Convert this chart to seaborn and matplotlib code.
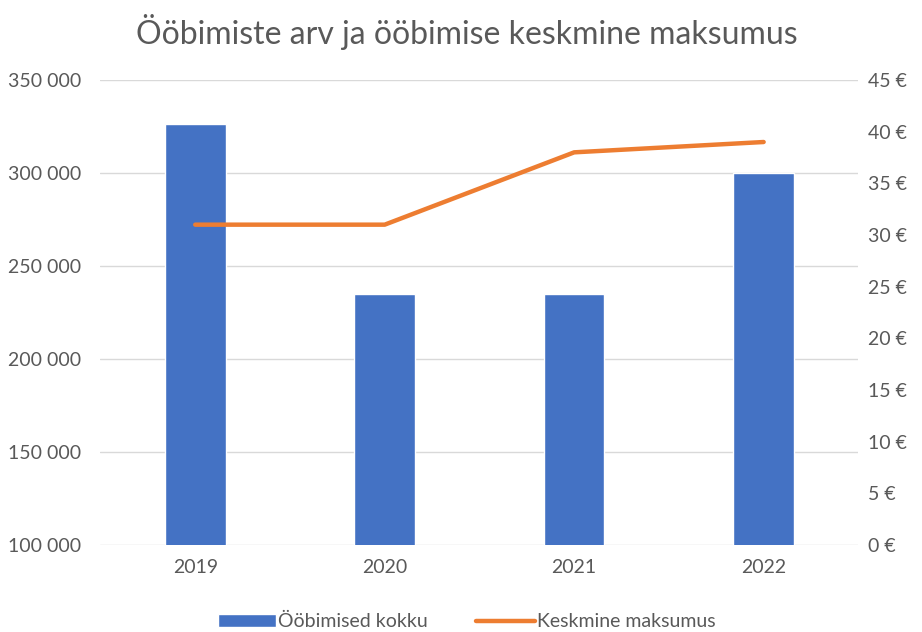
import numpy as np
import pandas as pd
import seaborn as sns
import matplotlib.pyplot as plt
from matplotlib.ticker import FuncFormatter, MultipleLocator
from matplotlib.patches import Patch
from matplotlib.lines import Line2D

years = ["2019", "2020", "2021", "2022"]
stays = [326500, 235000, 235000, 300000]
avg_cost = [31, 31, 38, 39]

title = "Ööbimiste arv ja ööbimise keskmine maksumus"
bar_label = "Ööbimised kokku"
line_label = "Keskmine maksumus"

blue = "#4472C4"
orange = "#ED7D31"
grey = "#595959"

sns.set_theme(style="white")
plt.rcParams['font.family'] = ['Lato', 'DejaVu Sans']

df = pd.DataFrame({"year": years, "stays": stays, "cost": avg_cost})

fig = plt.figure(figsize=(9.22, 6.32), dpi=100)
ax = fig.add_axes([0.109, 0.1377, 0.822, 0.7357])

sns.barplot(data=df, x="year", y="stays", color=blue, saturation=1, width=0.32, ax=ax)
ax.set_ylim(100000, 350000)
ax.yaxis.set_major_locator(MultipleLocator(50000))
ax.yaxis.set_major_formatter(FuncFormatter(lambda v, p: f"{int(v):,}".replace(",", " ")))
ax.grid(axis="y", color="#d9d9d9", linewidth=1)
ax.set_axisbelow(True)
ax.set_xlabel("")
ax.set_ylabel("")
ax.tick_params(axis="both", length=0, labelsize=14, labelcolor=grey)
ax.tick_params(axis="y", pad=14)
ax.tick_params(axis="x", pad=10)

ax2 = ax.twinx()
sns.pointplot(data=df, x="year", y="cost", color=orange, markers="", linestyles="-",
              linewidth=3.2, ax=ax2)
ax2.set_ylim(0, 45)
ax2.yaxis.set_major_locator(MultipleLocator(5))
ax2.yaxis.set_major_formatter(FuncFormatter(lambda v, p: f"{int(v)} €"))
ax2.set_ylabel("")
ax2.tick_params(axis="y", length=0, labelsize=14, labelcolor=grey, pad=7)
ax.set_xlim(-0.5, 3.5)
ax2.set_xlim(-0.5, 3.5)

for a in (ax, ax2):
    for s in a.spines.values():
        s.set_visible(False)

fig.text(0.506, 0.949, title, ha="center", va="center", fontsize=23, color=grey)

handles = [Patch(facecolor=blue, label=bar_label),
           Line2D([0], [0], color=orange, linewidth=3.2, label=line_label)]
fig.legend(handles=handles, loc="center", bbox_to_anchor=(0.506, 0.016), ncol=2,
           frameon=False, fontsize=14, labelcolor=grey, handlelength=3.0,
           handletextpad=0.1, columnspacing=2.5)

fig.savefig("out.png", dpi=100)
